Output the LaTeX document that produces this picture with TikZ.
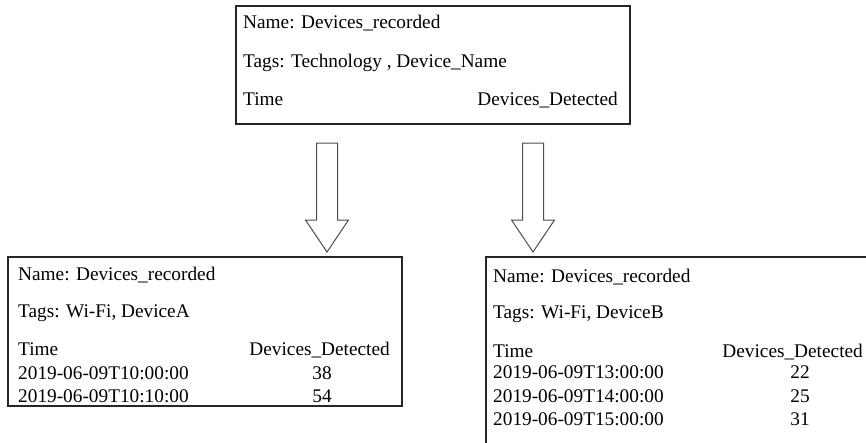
\documentclass[tikz,border=0pt]{standalone}
\usepackage{fontspec}
\setmainfont{Liberation Serif}
\begin{document}
\begin{tikzpicture}[x=1pt,y=-1pt,
  txt/.style={inner sep=0pt,anchor=base west,font=\fontsize{19.3}{23}\selectfont},
  txtr/.style={txt,anchor=base east},
  txtc/.style={txt,anchor=base},
  frame/.style={draw=black!85,line width=1.3pt},
  blockarrow/.style={draw=black!70,line width=1pt,fill=white,line join=miter}]
\useasboundingbox (0,0) rectangle (866,442);
\clip (0,0) rectangle (866,442);

% measurement schema
\draw[frame] (236,6) rectangle (630,124);
\node[txt]  (mname) at (243,28)  {Name: Devices\_recorded};
\node[txt]  (mtags) at (243,67)  {Tags: Technology , Device\_Name};
\node[txt]  (mtime) at (243,105) {Time};
\node[txtr] (mval)  at (618,105) {Devices\_Detected};

% block arrows
\coordinate (arrA) at (327,143);
\coordinate (arrB) at (533,143);
\foreach \c in {arrA,arrB}{
  \draw[blockarrow] ([xshift=-10.5pt]\c) -- ([xshift=10.5pt]\c)
    -- ([xshift=10.5pt,yshift=-77pt]\c) -- ([xshift=21.5pt,yshift=-77pt]\c)
    -- ([yshift=-109pt]\c) -- ([xshift=-21.5pt,yshift=-77pt]\c)
    -- ([xshift=-10.5pt,yshift=-77pt]\c) -- cycle;
}

% series for DeviceA
\draw[frame] (8,257) rectangle (402,406);
\node[txt]  (aname) at (18,280) {Name: Devices\_recorded};
\node[txt]  (atags) at (18,317) {Tags: Wi-Fi, DeviceA};
\node[txt]  (atime) at (18,355) {Time};
\node[txtr] (aval)  at (390,355) {Devices\_Detected};
\node[txt]  (at1) at (18,379) {2019-06-09T10:00:00};
\node[txtc] (av1) at (322,379) {38};
\node[txt]  (at2) at (18,402) {2019-06-09T10:10:00};
\node[txtc] (av2) at (322,402) {54};

% series for DeviceB
\draw[frame] (486,257) rectangle (900,480);
\node[txt]  (bname) at (493,282) {Name: Devices\_recorded};
\node[txt]  (btags) at (493,318) {Tags: Wi-Fi, DeviceB};
\node[txt]  (btime) at (493,357) {Time};
\node[txtr] (bval)  at (863,357) {Devices\_Detected};
\node[txt]  (bt1) at (493,378) {2019-06-09T13:00:00};
\node[txtc] (bv1) at (800,378) {22};
\node[txt]  (bt2) at (493,402) {2019-06-09T14:00:00};
\node[txtc] (bv2) at (800,402) {25};
\node[txt]  (bt3) at (493,425) {2019-06-09T15:00:00};
\node[txtc] (bv3) at (800,425) {31};
\end{tikzpicture}
\end{document}
